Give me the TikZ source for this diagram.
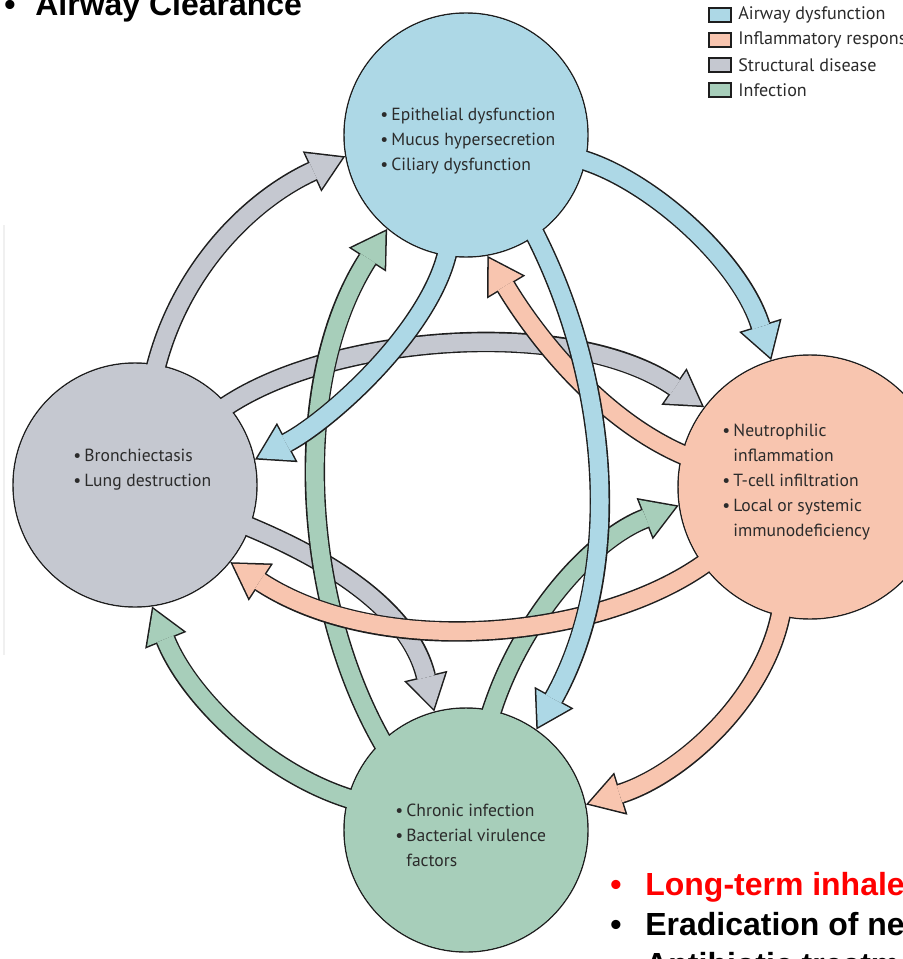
\documentclass[tikz,border=0pt]{standalone}
\usepackage{fontspec}
\setmainfont{PT Sans}
\newfontfamily\slidefont{Liberation Sans}
\usetikzlibrary{arrows.meta,calc}

\definecolor{airway}{HTML}{ADD8E6}
\definecolor{inflam}{HTML}{F8C5AF}
\definecolor{struct}{HTML}{C5C8D0}
\definecolor{infect}{HTML}{A7CEBA}
\definecolor{edge}{HTML}{1E1E1E}
\definecolor{ink}{HTML}{2B2B2B}

% bullet with a fixed width, and the matching indent for wrapped lines
\newcommand{\itm}{\makebox[6.3pt][l]{•}}
\newcommand{\cont}{\hspace*{6.3pt}}

\tikzset{
  hub/.style={circle, inner sep=0pt, minimum size=4.88cm, draw=edge, line width=0.8pt},
  flowout/.style={draw=edge, line width=0.41cm,
     -{Triangle[length=0.73cm, width=0.89cm, line width=0pt]}},
  flowin/.style={line width=0.35cm, shorten >=0.058cm,
     -{Triangle[length=0.642cm, width=0.782cm, line width=0pt]}},
  bodytext/.style={anchor=west, align=left, inner sep=0pt, text=ink,
     font=\fontsize{10}{14.2}\selectfont},
  keybox/.style={draw=edge, line width=0.6pt, minimum width=0.44cm,
     minimum height=0.28cm, inner sep=0pt},
  keytext/.style={anchor=west, inner sep=0pt, text=ink,
     font=\fontsize{10.3}{12}\selectfont},
  slide/.style={anchor=base west, inner sep=0pt,
     font=\slidefont\bfseries\fontsize{18.2}{22}\selectfont},
}

% block arrow: dark outline first, coloured body on top
\newcommand{\flowarrow}[2]{%
  \draw[flowout] #2;
  \draw[flowin, color=#1] #2;
}

\begin{document}
\begin{tikzpicture}[x=0.02cm, y=-0.02cm]
\useasboundingbox (0,0) rectangle (902,959);

% the four compartments
\node[hub, fill=airway] (T) at (466,135) {};
\node[hub, fill=inflam, minimum size=5.28cm] (R) at (810,487) {};
\node[hub, fill=struct] (L) at (135,485) {};
\node[hub, fill=infect] (B) at (466,830) {};

% structural disease
\flowarrow{struct}{($(L.80)!0.04!(L.center)$) .. controls (180,270) and (250,200) .. (T.190)}
\flowarrow{struct}{($(L.41)!0.04!(L.center)$) .. controls (330,335) and (570,315) .. (R.143)}
\flowarrow{struct}{($(L.-20)!0.04!(L.center)$) .. controls (330,560) and (410,610) .. (B.105)}

% infection
\flowarrow{infect}{($(B.134)!0.04!(B.center)$) .. controls (300,600) and (290,380) .. (T.230)}
\flowarrow{infect}{($(B.78)!0.04!(B.center)$) .. controls (520,620) and (590,540) .. (R.188)}
\flowarrow{infect}{($(B.165)!0.04!(B.center)$) .. controls (270,775) and (190,700) .. (L.278)}

% inflammatory response
\flowarrow{inflam}{($(R.166)!0.04!(R.center)$) .. controls (600,420) and (535,335) .. (T.280)}
\flowarrow{inflam}{($(R.216)!0.04!(R.center)$) .. controls (600,640) and (380,660) .. (L.321)}
\flowarrow{inflam}{($(R.257)!0.04!(R.center)$) .. controls (765,700) and (680,775) .. (B.12)}

% airway dysfunction
\flowarrow{airway}{($(T.-12)!0.04!(T.center)$) .. controls (650,180) and (740,260) .. (R.107)}
\flowarrow{airway}{($(T.261)!0.04!(T.center)$) .. controls (430,330) and (330,420) .. (L.12)}
\flowarrow{airway}{($(T.-55)!0.04!(T.center)$) .. controls (610,380) and (625,570) .. (B.55)}

% cover the arrow roots inside their own circles
\fill[airway] (T.center) circle[radius=2.425cm];
\fill[inflam] (R.center) circle[radius=2.625cm];
\fill[struct] (L.center) circle[radius=2.425cm];
\fill[infect] (B.center) circle[radius=2.425cm];

% compartment contents
\node[bodytext] (Ttxt) at (380,141) {\itm Epithelial dysfunction\\\itm Mucus hypersecretion\\\itm Ciliary dysfunction};
\node[bodytext] (Rtxt) at (722,482) {\itm Neutrophilic\\\cont inflammation\\\itm T-cell infiltration\\\itm Local or systemic\\\cont immunodeficiency};
\node[bodytext] (Ltxt) at (73,470) {\itm Bronchiectasis\\\itm Lung destruction};
\node[bodytext] (Btxt) at (395,835) {\itm Chronic infection\\\itm Bacterial virulence\\\cont factors};

% legend
\node[keybox, fill=airway] (k1) at (720,15) {};
\node[keybox, fill=inflam] (k2) at (720,40) {};
\node[keybox, fill=struct] (k3) at (720,65) {};
\node[keybox, fill=infect] (k4) at (720,90) {};
\node[keytext] (k1t) at (738,15) {Airway dysfunction};
\node[keytext] (k2t) at (738,40) {Inflammatory response};
\node[keytext] (k3t) at (738,65) {Structural disease};
\node[keytext] (k4t) at (738,90) {Infection};

% slide bullets
\draw[black!6, line width=0.6pt] (4,225) -- (4,655);
\node[slide] (s0b) at (4,16) {•};
\node[slide] (s0) at (35,16) {Airway Clearance};
\node[slide, text=red] (s1b) at (610,895) {•};
\node[slide, text=red] (s1) at (645,895) {Long-term inhale};
\node[slide] (s2b) at (610,935) {•};
\node[slide] (s2) at (645,935) {Eradication of ne};
\node[slide] (s3b) at (610,975) {•};
\node[slide] (s3) at (645,975) {Antibiotic treatm};
\end{tikzpicture}
\end{document}
